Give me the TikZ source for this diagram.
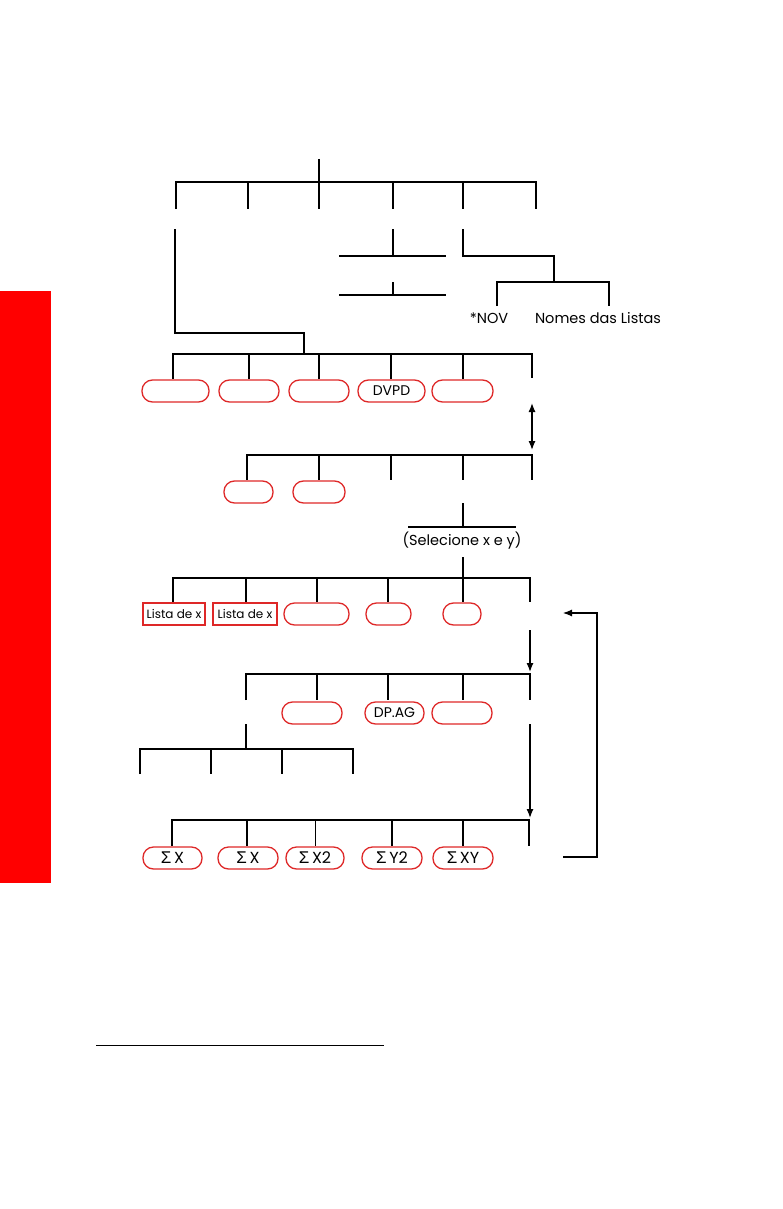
\documentclass[tikz,border=0pt]{standalone}
\usepackage{fontspec}
\setmainfont{Poppins}
\newfontfamily\sigfont{Liberation Sans}
\usetikzlibrary{arrows.meta}
\definecolor{ovalred}{RGB}{222,40,40}
\definecolor{barred}{RGB}{255,0,0}
\tikzset{
  ln/.style={line width=1.3pt, line cap=butt},
  thinln/.style={line width=0.7pt},
  oval/.style={draw=ovalred, line width=1.3pt, rounded corners=10.5pt, minimum height=22pt, inner sep=0pt, font=\fontsize{14}{14}\selectfont},
  sigoval/.style={oval, font=\fontsize{16}{16}\selectfont},
  redbox/.style={draw=ovalred, line width=1.4pt, minimum height=22pt, inner sep=0pt, font=\fontsize{12}{12}\selectfont},
  lbl/.style={inner sep=0pt, font=\fontsize{14.5}{15}\selectfont},
  arr/.style={ln, -{Latex[length=9pt,width=7pt]}},
  darr/.style={ln, {Latex[length=9pt,width=7pt]}-{Latex[length=9pt,width=7pt]}},
}
\newcommand{\sig}{{\sigfont\fontsize{17}{17}\selectfont\char"03A3}\,}
\begin{document}
\begin{tikzpicture}[x=1pt,y=-1pt]
\useasboundingbox (0,0) rectangle (783,1209);
% red side bar
\fill[barred] (0,291) rectangle (51,883);

% ---------- row 1 ----------
\coordinate (t1) at (319,159);
\coordinate (b1) at (319,182);
\draw[ln] (t1) -- (b1);
\draw[ln] (176,209) -- (176,182) -- (536,182) -- (536,209);
\foreach \x in {248,319,393,463} \draw[ln] (\x,182) -- (\x,209);

% sub branches
\coordinate (s1) at (175,229);
\coordinate (s1b) at (304,333);
\draw[ln] (s1) -- (175,333) -- (s1b) -- (304,354);
\draw[ln] (393,229) -- (393,256);
\draw[ln] (339,256) -- (446,256);
\draw[ln] (393,282) -- (393,295);
\draw[ln] (339,295) -- (446,295);
\draw[ln] (463,229) -- (463,256) -- (554,256) -- (554,282);
\draw[ln] (497,306) -- (497,282) -- (609,282) -- (609,306);
\node[lbl] (nov) at (489,318) {*NOV};
\node[lbl] (nomes) at (598,318) {Nomes das Listas};

% ---------- row 2 ----------
\draw[ln] (173,379) -- (173,354) -- (532,354) -- (532,378);
\foreach \x in {249,319,391,463} \draw[ln] (\x,354) -- (\x,379);
\node[oval, minimum width=67pt] (o21) at (175.5,391) {};
\node[oval, minimum width=60pt] (o22) at (249,391) {};
\node[oval, minimum width=60pt] (o23) at (319,391) {};
\node[oval, minimum width=67pt] (o24) at (391.5,391) {DVPD};
\node[oval, minimum width=61pt] (o25) at (462.5,391) {};
\coordinate (da) at (532,403);
\coordinate (db) at (532,450);
\draw[darr] (da) -- (db);

% ---------- row 3 ----------
\draw[ln] (247,480) -- (247,455) -- (532,455) -- (532,480);
\foreach \x in {319,391,463} \draw[ln] (\x,455) -- (\x,480);
\node[oval, minimum width=49pt] (o31) at (248.5,492) {};
\node[oval, minimum width=52pt] (o32) at (319,492) {};
\draw[ln] (463,503) -- (463,527);
\draw[ln] (408,527) -- (516,527);
\node[lbl] (sel) at (462,541) {(Selecione x e y)};
\draw[ln] (463,557) -- (463,578);

% ---------- row 4 ----------
\draw[ln] (173,602) -- (173,578) -- (530,578) -- (530,602);
\foreach \x in {246,317,388,463} \draw[ln] (\x,578) -- (\x,602);
\node[redbox, minimum width=62pt] (l1) at (174,614) {Lista de x};
\node[redbox, minimum width=64pt] (l2) at (245,614) {Lista de x};
\node[oval, minimum width=65pt] (o43) at (316.5,614) {};
\node[oval, minimum width=45pt] (o44) at (388.5,614) {};
\node[oval, minimum width=38pt] (o45) at (462,614) {};
\coordinate (a4) at (530,630);
\coordinate (a4e) at (530,672);
\draw[arr] (a4) -- (a4e);
% return loop
\coordinate (rl1) at (563,857);
\coordinate (rl2) at (563,613);
\draw[arr, line width=1.1pt] (rl1) -- (597,857) -- (597,613) -- (rl2);

% ---------- row 5 ----------
\draw[ln] (246,700) -- (246,674) -- (530,674) -- (530,700);
\foreach \x in {317,388,463} \draw[ln] (\x,674) -- (\x,700);
\node[oval, minimum width=60pt] (o51) at (312,713) {};
\node[oval, minimum width=59pt] (o52) at (394.5,713) {DP.AG};
\node[oval, minimum width=60pt] (o53) at (462,713) {};
\draw[ln] (246,724) -- (246,749);
\draw[ln] (140,774) -- (140,749) -- (353,749) -- (353,774);
\foreach \x in {211,282} \draw[ln] (\x,749) -- (\x,774);
\coordinate (a5) at (530,724);
\coordinate (a5e) at (530,818);
\draw[arr] (a5) -- (a5e);

% ---------- row 6 ----------
\draw[ln] (172,846) -- (172,820) -- (529,820) -- (529,846);
\foreach \x in {247,392,463} \draw[ln] (\x,820) -- (\x,846);
\draw[thinln] (315,820) -- (315,846);
\node[sigoval, minimum width=59pt] (o61) at (172.5,858) {\sig X};
\node[sigoval, minimum width=60pt] (o62) at (248,858) {\sig X};
\node[sigoval, minimum width=58pt] (o63) at (315,858) {\sig X2};
\node[sigoval, minimum width=60pt] (o64) at (392,858) {\sig Y2};
\node[sigoval, minimum width=60pt] (o65) at (463,858) {\sig XY};

% footnote rule
\draw[line width=1pt] (96,1045) -- (384,1045);
\end{tikzpicture}
\end{document}
